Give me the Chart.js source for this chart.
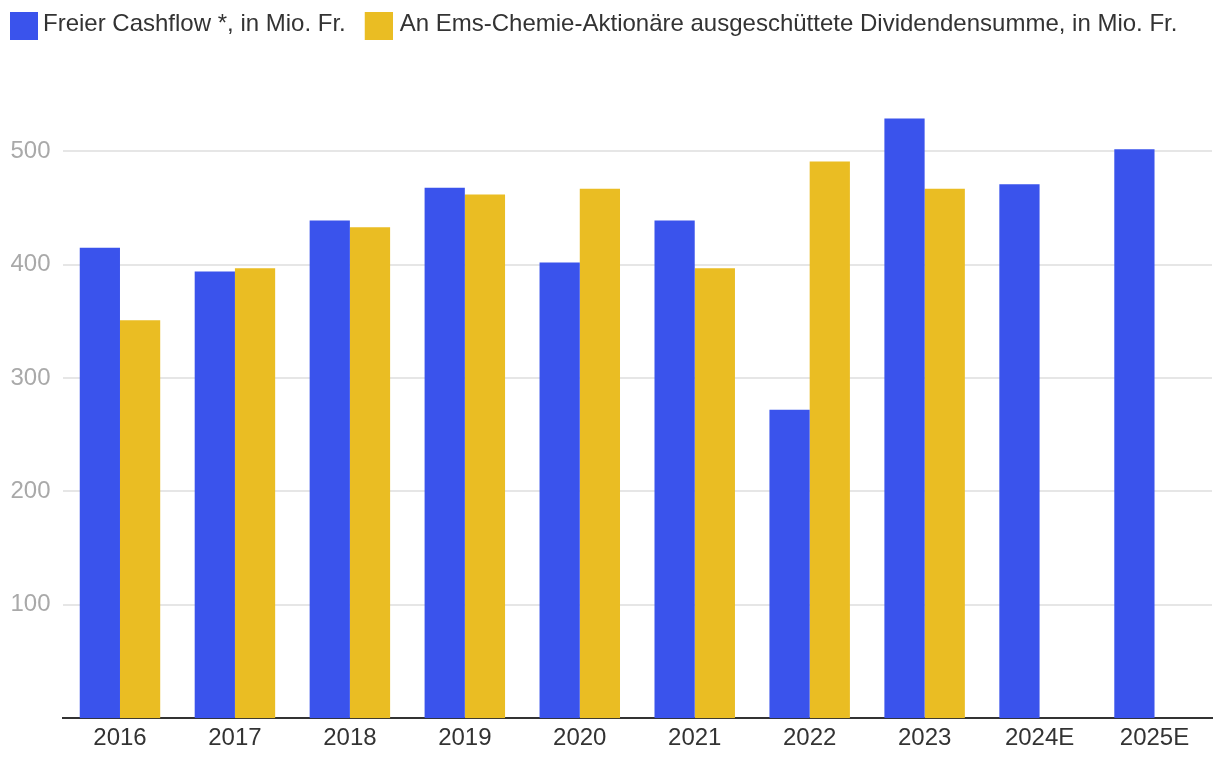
<!DOCTYPE html>
<html>
<head>
<meta charset="utf-8">
<script src="https://cdn.jsdelivr.net/npm/chart.js@4"></script>
<style>
html,body{margin:0;padding:0;background:#fff;}
#wrap{width:1220px;height:770px;}
canvas{display:block;}
</style>
</head>
<body>
<div id="wrap"><canvas id="c" width="1220" height="770"></canvas></div>
<script>
const categories = ['2016','2017','2018','2019','2020','2021','2022','2023','2024E','2025E'];
const freeCashflow = [415, 394, 439, 468, 402, 439, 272, 529, 471, 502];
const dividends = [351, 397, 433, 462, 467, 397, 491, 467, null, null];
const yTickValues = [100, 200, 300, 400, 500];
const seriesNames = ['Freier Cashflow *, in Mio. Fr.', 'An Ems-Chemie-Aktionäre ausgeschüttete Dividendensumme, in Mio. Fr.'];
const seriesColors = ['#3a53ec', '#eabd23'];

function makeSwatch(color, w, h, bx, by) {
  const c = document.createElement('canvas');
  c.width = w; c.height = h;
  const g = c.getContext('2d');
  g.fillStyle = color;
  g.fillRect(bx, by, 28, 28);
  return c;
}
const swatches = [
  makeSwatch(seriesColors[0], 44, 32, 16, 4),
  makeSwatch(seriesColors[1], 40, 32, 12, 4)
];

Chart.defaults.font.family = "'Liberation Sans', Arial, Helvetica, sans-serif";

new Chart(document.getElementById('c'), {
  type: 'bar',
  data: {
    labels: categories,
    datasets: [
      { label: seriesNames[0], data: freeCashflow, backgroundColor: seriesColors[0], borderWidth: 0 },
      { label: seriesNames[1], data: dividends, backgroundColor: seriesColors[1], borderWidth: 0 }
    ]
  },
  options: {
    responsive: false,
    animation: false,
    devicePixelRatio: 1,
    layout: { padding: { left: -11, top: 0, right: 8, bottom: 11 } },
    datasets: { bar: { categoryPercentage: 0.7, barPercentage: 1.0 } },
    plugins: {
      tooltip: { enabled: false },
      legend: {
        position: 'top',
        align: 'start',
        labels: {
          usePointStyle: true,
          pointStyleWidth: 30,
          boxHeight: 24,
          padding: 12,
          color: '#333333',
          font: { size: 24 },
          generateLabels(chart) {
            const items = Chart.defaults.plugins.legend.labels.generateLabels(chart);
            items.forEach((it, i) => { it.pointStyle = swatches[i]; });
            return items;
          }
        }
      }
    },
    scales: {
      x: {
        grid: { display: false, drawTicks: false },
        border: { display: true, color: '#333333', width: 2 },
        ticks: { color: '#333333', font: { size: 24 }, padding: 6, maxRotation: 0, autoSkip: false }
      },
      y: {
        min: 0,
        max: 593,
        afterBuildTicks(scale) { scale.ticks = yTickValues.map(v => ({ value: v })); },
        afterFit(scale) { scale.width = 73.5; },
        grid: { color: '#e6e6e6', lineWidth: 2, drawTicks: false },
        border: { display: false },
        ticks: { color: '#a9a9a9', font: { size: 24 }, padding: 12 }
      }
    }
  }
});
</script>
</body>
</html>
